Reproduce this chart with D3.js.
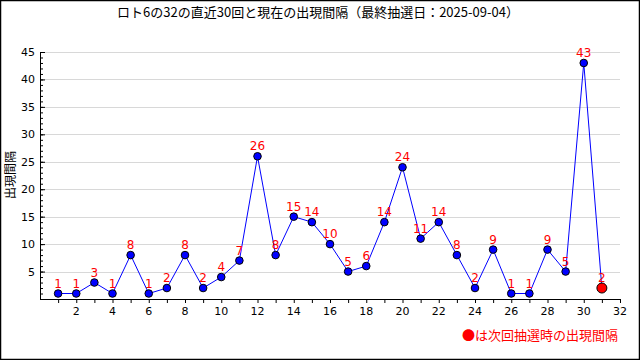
<!DOCTYPE html>
<html><head><meta charset="utf-8">
<script src="https://cdn.jsdelivr.net/npm/d3@7"></script>
<style>body{margin:0;background:#fff}svg{display:block}</style>
</head><body>
<svg id="c" width="640" height="360"></svg>
<script>
const draws = [1,2,3,4,5,6,7,8,9,10,11,12,13,14,15,16,17,18,19,20,21,22,23,24,25,26,27,28,29,30];
const intervals = [1,1,3,1,8,1,2,8,2,4,7,26,8,15,14,10,5,6,14,24,11,14,8,2,9,1,1,9,5,43];
const nextDraw = 31;
const nextInterval = 2;
const yTicks = [5,10,15,20,25,30,35,40,45];
const xTicks = [2,4,6,8,10,12,14,16,18,20,22,24,26,28,30,32];
const title = "ロト6の32の直近30回と現在の出現間隔（最終抽選日：2025-09-04）";
const yLabel = "出現間隔";
const legendText = "●は次回抽選時の出現間隔";

const svg = d3.select("#c");
const x = d3.scaleLinear().domain([0,32]).range([40,620]);
const y = d3.scaleLinear().domain([0,45]).range([299,52]);
const jp = "'Noto Sans CJK JP', sans-serif";
const num = "'DejaVu Sans', sans-serif";

svg.append("rect").attr("x",0.5).attr("y",0.5).attr("width",639).attr("height",359)
  .attr("fill","#fff").attr("stroke","#000").attr("stroke-width",1.5);

svg.append("text").attr("x",318).attr("y",17).attr("text-anchor","middle")
  .attr("font-family",jp).attr("font-size",13).attr("fill","#000").text(title);

// grid
svg.append("g").selectAll("line").data(yTicks).join("line")
  .attr("x1",x(0)).attr("x2",x(32)).attr("y1",d=>Math.round(y(d))+0.5).attr("y2",d=>Math.round(y(d))+0.5)
  .attr("stroke","#d8d8d8").attr("stroke-width",1);

// y axis
const ya = svg.append("g").attr("transform",`translate(${x(0)},0)`);
ya.call(d3.axisRight(y).tickValues(d3.range(1,46)).tickSize(3).tickFormat(""));
ya.call(g=>g.select(".domain").remove());
const ya2 = svg.append("g").attr("transform",`translate(${x(0)},0)`);
ya2.call(d3.axisRight(y).tickValues(yTicks).tickSize(5).tickFormat(""));
ya2.select(".domain").attr("d",`M0.5,${y(45)}V${y(0)}`);
svg.append("g").selectAll("text").data(yTicks).join("text")
  .attr("x",x(0)-5).attr("y",d=>y(d)+4).attr("text-anchor","end")
  .attr("font-family",num).attr("font-size",11).attr("fill","#000").text(d=>d);

// x axis
const xa = svg.append("g").attr("transform",`translate(0,${y(0)})`);
xa.call(d3.axisBottom(x).tickValues(d3.range(1,33)).tickSize(4).tickFormat(""));
xa.select(".domain").attr("d",`M${x(0)},0.5H${x(32)}`);
svg.append("g").selectAll("text").data(xTicks).join("text")
  .attr("x",d=>x(d)).attr("y",y(0)+16).attr("text-anchor","middle")
  .attr("font-family",num).attr("font-size",11).attr("fill","#000").text(d=>d);
svg.selectAll(".tick line").attr("stroke","#000");
svg.selectAll(".domain").attr("stroke","#000");

// y label
svg.append("text").attr("transform",`translate(15,175) rotate(-90)`).attr("text-anchor","middle")
  .attr("font-family",jp).attr("font-size",12).attr("fill","#000").text(yLabel);

// line
const pts = draws.map((d,i)=>[d,intervals[i]]).concat([[nextDraw,nextInterval]]);
svg.append("path").datum(pts).attr("fill","none").attr("stroke","#0000ff").attr("stroke-width",1)
  .attr("d",d3.line().x(d=>x(d[0])).y(d=>y(d[1])));

svg.append("g").selectAll("circle").data(pts.slice(0,30)).join("circle")
  .attr("cx",d=>x(d[0])).attr("cy",d=>y(d[1])).attr("r",3.8)
  .attr("fill","#0000ff").attr("stroke","#000").attr("stroke-width",1);
svg.append("circle").attr("cx",x(nextDraw)).attr("cy",y(nextInterval)).attr("r",5)
  .attr("fill","#ff0000").attr("stroke","#000").attr("stroke-width",1);

svg.append("g").selectAll("text").data(pts).join("text")
  .attr("x",d=>x(d[0])).attr("y",d=>y(d[1])-6).attr("text-anchor","middle")
  .attr("font-family",num).attr("font-size",12).attr("fill","#ff0000").text(d=>d[1]);

svg.append("text").attr("x",618).attr("y",340).attr("text-anchor","end")
  .attr("font-family",jp).attr("font-size",13).attr("fill","#ff0000").text(legendText);
</script>
</body></html>
